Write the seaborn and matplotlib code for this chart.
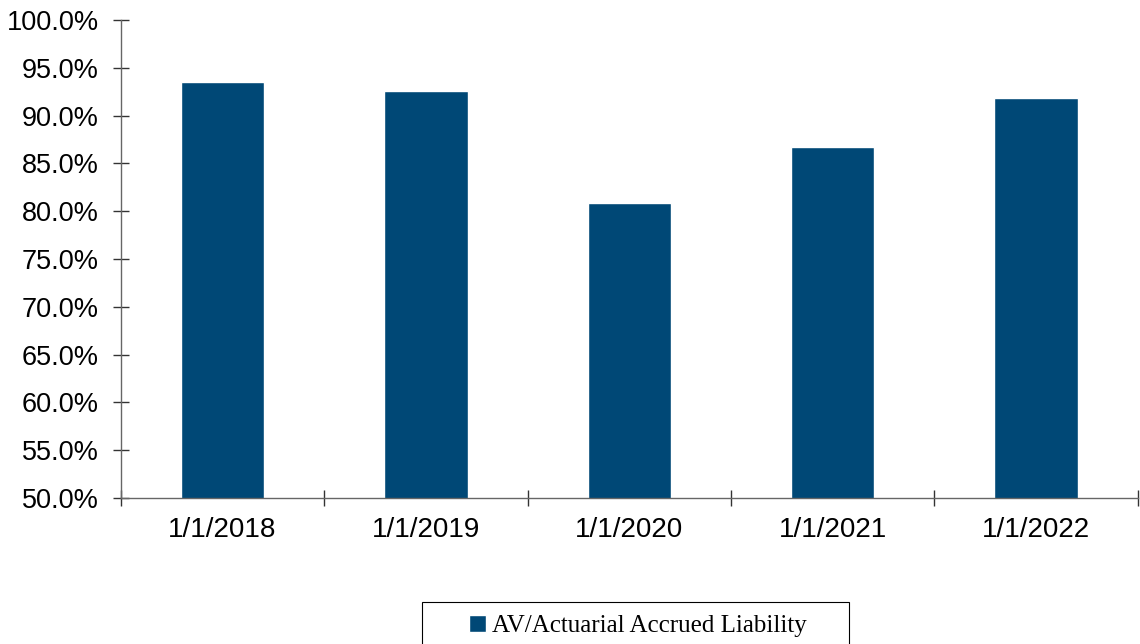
import matplotlib
matplotlib.use("Agg")
import matplotlib.pyplot as plt
import matplotlib.ticker as mticker
from matplotlib.patches import Rectangle
import seaborn as sns
import pandas as pd

# values
dates = ["1/1/2018", "1/1/2019", "1/1/2020", "1/1/2021", "1/1/2022"]
funded_ratio = [0.935, 0.926, 0.809, 0.867, 0.918]
series_name = "AV/Actuarial Accrued Liability"
bar_color = "#004876"

sns.set_style("white")
plt.rcParams["font.family"] = ["Liberation Sans", "DejaVu Sans"]
plt.rcParams["text.color"] = "black"
plt.rcParams["xtick.color"] = "#333333"
plt.rcParams["ytick.color"] = "#333333"
plt.rcParams["xtick.labelcolor"] = "black"
plt.rcParams["ytick.labelcolor"] = "black"

df = pd.DataFrame({"date": dates, "ratio": funded_ratio})

fig = plt.figure(figsize=(11.4, 6.44), dpi=100)
ax = fig.add_axes([0.106, 0.2267, 0.892, 0.7423])

sns.barplot(data=df, x="date", y="ratio", color=bar_color, width=0.41,
            saturation=1, ax=ax, label=series_name)

ax.set_ylim(0.5, 1.0)
ax.set_xlim(-0.5, len(dates) - 0.5)
ax.yaxis.set_major_locator(mticker.MultipleLocator(0.05))
ax.yaxis.set_major_formatter(mticker.PercentFormatter(1.0, decimals=1))

# category boundary ticks on x, no ticks at labels
ax.set_xticks([i - 0.5 for i in range(len(dates) + 1)], minor=True)
ax.tick_params(axis="x", which="both", bottom=True)
ax.tick_params(axis="y", which="both", left=True)
ax.tick_params(axis="x", which="major", length=0, pad=14, labelsize=20)
ax.tick_params(axis="x", which="minor", direction="inout", length=11.5, width=1)
ax.tick_params(axis="y", which="major", direction="inout", length=11.5,
               width=1, labelsize=19.5, pad=10)

for side in ["top", "right"]:
    ax.spines[side].set_visible(False)
for side in ["left", "bottom"]:
    ax.spines[side].set_color("#666666")
    ax.spines[side].set_linewidth(1)

ax.set_xlabel("")
ax.set_ylabel("")

handles, labels = ax.get_legend_handles_labels()
if ax.get_legend() is not None:
    ax.get_legend().remove()
leg = fig.legend(handles, labels, loc="center",
                 bbox_to_anchor=(0.5595, 1 - 626 / 644), frameon=False,
                 borderaxespad=0, borderpad=0, handlelength=0.7,
                 handleheight=0.7, handletextpad=0.25,
                 prop={"family": "Liberation Serif", "size": 18})

# legend box, running off the bottom edge like the reference
fig.patches.append(Rectangle((422 / 1140, -0.02), (849 - 422) / 1140,
                             (644 - 602) / 644 + 0.02,
                             transform=fig.transFigure, fill=False,
                             edgecolor="black", linewidth=0.8))

fig.savefig("out.png", dpi=100)
